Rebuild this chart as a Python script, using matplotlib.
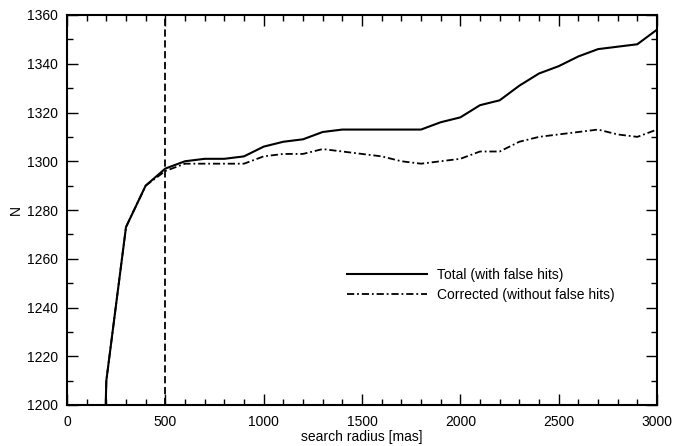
import matplotlib
matplotlib.use("Agg")
import matplotlib.pyplot as plt
from matplotlib.ticker import MultipleLocator

plt.rcParams["font.family"] = ["Liberation Sans", "DejaVu Sans"]
plt.rcParams["font.size"] = 10

# search radius [mas] and number of matches
radius = [100, 200, 300, 400, 500, 600, 700, 800, 900, 1000, 1100, 1200, 1300,
          1400, 1500, 1600, 1700, 1800, 1900, 2000, 2100, 2200, 2300, 2400,
          2500, 2600, 2700, 2800, 2900, 3000]
n_total = [900, 1210, 1273, 1290, 1297, 1300, 1301, 1301, 1302, 1306, 1308, 1309,
           1312, 1313, 1313, 1313, 1313, 1313, 1316, 1318, 1323, 1325, 1331,
           1336, 1339, 1343, 1346, 1347, 1348, 1354]
n_corrected = [900, 1210, 1273, 1290, 1296, 1299, 1299, 1299, 1299, 1302, 1303,
               1303, 1305, 1304, 1303, 1302, 1300, 1299, 1300, 1301, 1304, 1304,
               1308, 1310, 1311, 1312, 1313, 1311, 1310, 1313]
chosen_radius = 500

fig = plt.figure(figsize=(6.73, 4.46), dpi=100)
ax = fig.add_axes([67 / 673, 41 / 446, 590 / 673, 390 / 446])

ax.plot(radius, n_total, color="black", lw=1.5, label="Total (with false hits)")
ax.plot(radius, n_corrected, color="black", lw=1.3, dashes=(4, 1.6, 1, 1.6),
        label="Corrected (without false hits)")
ax.axvline(chosen_radius, color="black", lw=1.3, dashes=(4, 2))

ax.set_xlim(0, 3000)
ax.set_ylim(1200, 1360)
ax.xaxis.set_major_locator(MultipleLocator(500))
ax.xaxis.set_minor_locator(MultipleLocator(100))
ax.yaxis.set_major_locator(MultipleLocator(20))
ax.yaxis.set_minor_locator(MultipleLocator(10))
ax.tick_params(which="both", direction="in", top=True, right=True, width=1)
ax.tick_params(which="major", length=8)
ax.tick_params(which="minor", length=4.5)
ax.tick_params(axis="x", which="major", pad=7)
ax.tick_params(axis="y", which="major", pad=6.5)
for s in ax.spines.values():
    s.set_linewidth(1.5)

ax.set_xlabel("search radius [mas]", labelpad=1)
ax.set_ylabel("N", labelpad=3)

ax.legend(loc="center left", bbox_to_anchor=(0.474, 0.308), frameon=False,
          borderpad=0, borderaxespad=0, handlelength=5.8, handletextpad=0.7,
          labelspacing=0.45)

fig.savefig("out.png", dpi=100)
